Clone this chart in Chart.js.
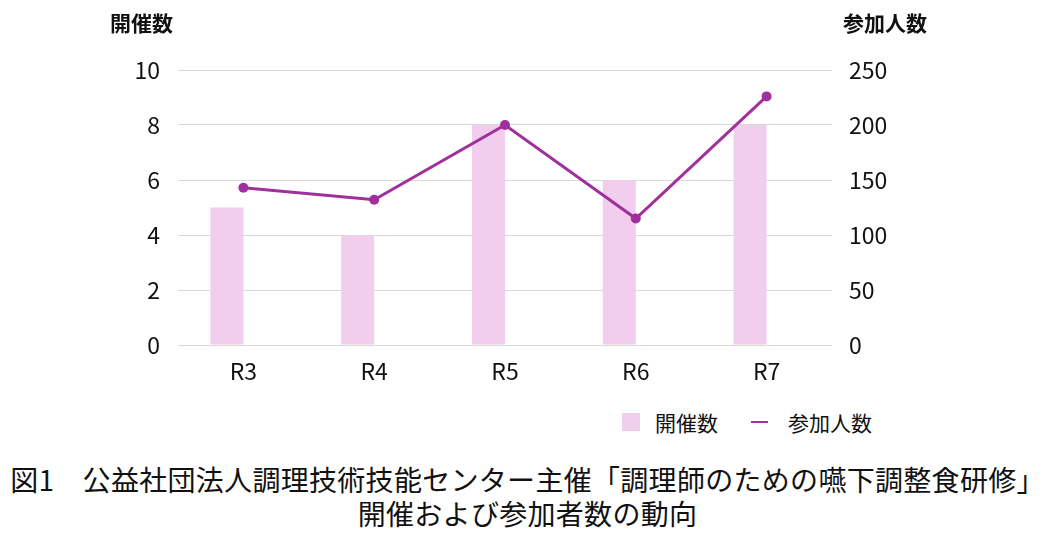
<!DOCTYPE html>
<html lang="ja">
<head>
<meta charset="utf-8">
<script src="https://cdn.jsdelivr.net/npm/chart.js@4.4.1/dist/chart.umd.min.js"></script>
<style>
  html, body { margin: 0; padding: 0; background: #fff; }
  body { width: 1055px; height: 545px; position: relative; overflow: hidden;
         font-family: 'Noto Sans CJK JP', 'Noto Sans', sans-serif; color: #111; }
  #wrap { position: absolute; left: 0; top: 0; width: 1055px; height: 400px; }
  .axis-title { position: absolute; top: 8px; font-size: 21px; font-weight: 700; line-height: 28px; }
  #legend { position: absolute; top: 406px; left: 622px; height: 32px; display: flex; align-items: center; font-size: 21px; }
  #legend .box { width: 18px; height: 18px; background: #F1CDEE; margin-right: 15px; }
  #legend .ln { width: 17px; height: 2px; background: #A0309B; margin-left: 33px; margin-right: 20px; }
  #caption { position: absolute; top: 462px; left: 0; width: 1055px; text-align: center;
             font-size: 28px; line-height: 34px; font-weight: 400; letter-spacing: 0.3px; }
</style>
</head>
<body>
<div id="wrap"><canvas id="chart"></canvas></div>
<div class="axis-title" style="left:110px">開催数</div>
<div class="axis-title" style="left:843px">参加人数</div>
<div id="legend"><span class="box"></span><span>開催数</span><span class="ln"></span><span>参加人数</span></div>
<div id="caption">図1　公益社団法人調理技術技能センター主催「調理師のための嚥下調整食研修」<br>開催および参加者数の動向</div>
<script>
/* ---- data ---- */
const years = ['R3', 'R4', 'R5', 'R6', 'R7'];
const sessions = [5, 4, 8, 6, 8];          // 開催数 (left axis)
const participants = [143, 132, 200, 115, 226]; // 参加人数 (right axis)
const leftTicks = [0, 2, 4, 6, 8, 10];
const rightTicks = [0, 50, 100, 150, 200, 250];

const BAR_COLOR = '#F1CDEE';
const LINE_COLOR = '#A0309B';
const GRID_COLOR = '#D9D9D9';
const TICK_FONT = { family: "'Noto Sans CJK JP', sans-serif", size: 23 };

Chart.defaults.color = '#111';

new Chart(document.getElementById('chart'), {
  type: 'bar',
  data: {
    labels: years,
    datasets: [{
      label: '参加人数',
      type: 'line',
      data: participants,
      yAxisID: 'y1',
      borderColor: LINE_COLOR,
      backgroundColor: LINE_COLOR,
      borderWidth: 3,
      pointRadius: 5,
      pointBackgroundColor: LINE_COLOR,
      pointBorderWidth: 0,
      tension: 0,
      order: 0,
    }, {
      label: '開催数',
      data: sessions,
      yAxisID: 'y',
      backgroundColor: BAR_COLOR,
      categoryPercentage: 0.505,
      barPercentage: 1,
      order: 1,
    }, {
      // empty slot so the bars sit left of the category centre
      label: '',
      data: years.map(() => null),
      yAxisID: 'y',
      categoryPercentage: 0.505,
      barPercentage: 1,
      order: 2,
    }]
  },
  options: {
    responsive: true, maintainAspectRatio: false, animation: false,
    layout: { padding: { top: 70, bottom: 0, left: 0, right: 0 } },
    plugins: { legend: { display: false }, tooltip: { enabled: false } },
    scales: {
      x: {
        grid: { display: false },
        border: { display: false },
        ticks: { font: TICK_FONT, padding: 4 },
        afterFit: s => { s.height = 55; },
      },
      y: {
        position: 'left',
        min: 0, max: 10,
        afterBuildTicks: s => { s.ticks = leftTicks.map(v => ({ value: v })); },
        grid: { color: GRID_COLOR, lineWidth: 1, drawTicks: false },
        border: { display: false },
        ticks: { font: TICK_FONT, padding: 18 },
        afterFit: s => { s.width = 178; },
      },
      y1: {
        position: 'right',
        min: 0, max: 250,
        afterBuildTicks: s => { s.ticks = rightTicks.map(v => ({ value: v })); },
        grid: { display: false, drawTicks: false },
        border: { display: false },
        ticks: { font: TICK_FONT, padding: 17 },
        afterFit: s => { s.width = 223; },
      }
    }
  }
});
</script>
</body>
</html>
